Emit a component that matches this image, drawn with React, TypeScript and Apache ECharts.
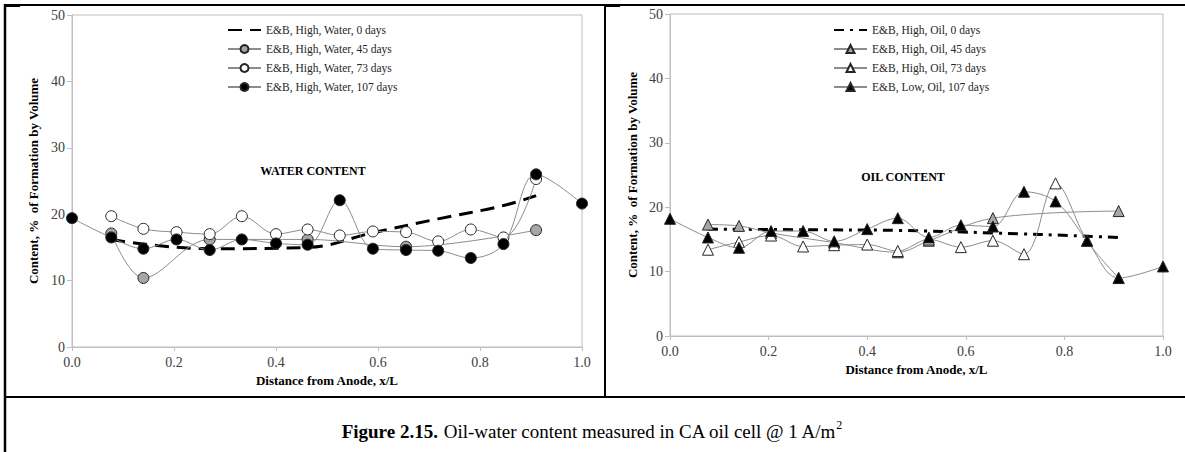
import React, { useEffect, useRef } from "react";
import * as echarts from "echarts";

// ---------- data ----------
const xTicks = [0, 0.2, 0.4, 0.6, 0.8, 1.0];
const yTicks = [0, 10, 20, 30, 40, 50];

const waterLegend = [
  "E&B, High, Water, 0 days",
  "E&B, High, Water, 45 days",
  "E&B, High, Water, 73 days",
  "E&B, High, Water, 107 days",
];
const water0X = [0.077, 0.14, 0.27, 0.462, 0.59, 0.718, 0.846, 0.91];
const water0Y = [16.2, 15.5, 14.8, 15.0, 17.2, 19.3, 21.3, 22.8];
const water45X = [0.077, 0.14, 0.27, 0.462, 0.655, 0.91];
const water45Y = [17.1, 10.4, 16.2, 16.2, 15.1, 17.6];
const water73X = [0.077, 0.14, 0.205, 0.27, 0.333, 0.4, 0.462, 0.525, 0.59, 0.655, 0.718, 0.782, 0.846, 0.91];
const water73Y = [19.7, 17.8, 17.3, 17.0, 19.7, 17.0, 17.7, 16.8, 17.4, 17.3, 15.9, 17.7, 16.5, 25.3];
const water107X = [0, 0.077, 0.14, 0.205, 0.27, 0.333, 0.4, 0.462, 0.525, 0.59, 0.655, 0.718, 0.782, 0.846, 0.91, 1.0];
const water107Y = [19.4, 16.5, 14.8, 16.2, 14.6, 16.2, 15.6, 15.4, 22.1, 14.8, 14.6, 14.5, 13.4, 15.5, 26.0, 21.6];

const oilLegend = [
  "E&B, High, Oil, 0 days",
  "E&B, High, Oil, 45 days",
  "E&B, High, Oil, 73 days",
  "E&B, Low, Oil, 107 days",
];
const oil0X = [0.077, 0.27, 0.462, 0.655, 0.846, 0.91];
const oil0Y = [16.6, 16.5, 16.4, 16.0, 15.5, 15.3];
const oil45X = [0.077, 0.14, 0.205, 0.333, 0.462, 0.525, 0.655, 0.91];
const oil45Y = [17.3, 17.1, 16.0, 14.5, 13.0, 14.8, 18.3, 19.4];
const oil73X = [0.077, 0.14, 0.205, 0.27, 0.333, 0.4, 0.462, 0.525, 0.59, 0.655, 0.718, 0.782, 0.846, 0.91];
const oil73Y = [13.4, 14.6, 15.6, 13.9, 14.1, 14.2, 13.2, 15.0, 13.8, 14.8, 12.7, 23.7, 14.8, 9.0];
const oil107X = [0, 0.077, 0.14, 0.205, 0.27, 0.333, 0.4, 0.462, 0.525, 0.59, 0.655, 0.718, 0.782, 0.846, 0.91, 1.0];
const oil107Y = [18.2, 15.3, 13.7, 16.3, 16.3, 14.7, 16.6, 18.3, 15.3, 17.2, 17.0, 22.4, 20.9, 14.8, 9.0, 10.8];

const yTitle = "Content, %  of Formation by Volume";
const xTitle = "Distance from Anode, x/L";

// ---------- helpers ----------
const FONT = "Liberation Serif, Times New Roman, serif";
const pairs = (xs: number[], ys: number[]) => xs.map((x, i) => [x, ys[i]]);

function xAxis(gridIndex: number, gap: number) {
  return {
    type: "value",
    gridIndex,
    min: xTicks[0],
    max: xTicks[xTicks.length - 1],
    interval: 0.2,
    axisLine: { lineStyle: { color: "#bfbfbf", width: 1 } },
    axisTick: { show: true, length: 4, lineStyle: { color: "#bfbfbf" } },
    splitLine: { show: false },
    axisLabel: {
      fontFamily: FONT,
      fontSize: 14,
      color: "#404040",
      margin: 8,
      formatter: (v: number) => v.toFixed(1),
    },
    name: xTitle,
    nameLocation: "middle",
    nameGap: gap,
    nameTextStyle: { fontFamily: FONT, fontSize: 13, fontWeight: "bold", color: "#000" },
  };
}
function yAxis(gridIndex: number, gap: number) {
  return {
    type: "value",
    gridIndex,
    min: yTicks[0],
    max: yTicks[yTicks.length - 1],
    interval: 10,
    axisLine: { show: true, lineStyle: { color: "#bfbfbf", width: 1 } },
    axisTick: { show: true, length: 5, lineStyle: { color: "#bfbfbf" } },
    splitLine: { show: false },
    axisLabel: { fontFamily: FONT, fontSize: 14, color: "#404040", margin: 7 },
    name: yTitle,
    nameLocation: "middle",
    nameGap: gap,
    nameRotate: 90,
    nameTextStyle: { fontFamily: FONT, fontSize: 13, fontWeight: "bold", color: "#000" },
  };
}

function markerSeries(
  name: string,
  idx: number,
  data: number[][],
  symbol: string,
  fill: string,
  lineColor: string,
  size: number,
  z: number
) {
  return {
    name,
    type: "line",
    xAxisIndex: idx,
    yAxisIndex: idx,
    data,
    smooth: 0.35,
    symbol,
    symbolSize: size,
    showSymbol: true,
    lineStyle: { color: lineColor, width: 1 },
    itemStyle: { color: fill, borderColor: "#262626", borderWidth: 1 },
    z,
  };
}

function legend(left: number, names: string[]) {
  return {
    left,
    top: 19,
    orient: "vertical",
    itemWidth: 33,
    itemHeight: 10,
    itemGap: 7,
    data: names.map((n, i) => (i === 0 ? { name: n, itemStyle: { opacity: 0 } } : { name: n })),
    textStyle: { fontFamily: FONT, fontSize: 11.5, color: "#262626", lineHeight: 12 },
    selectedMode: false,
  };
}

export default function App() {
  const ref = useRef<HTMLDivElement>(null);
  useEffect(() => {
    if (!ref.current) return;
    const chart = echarts.init(ref.current, undefined, { renderer: "svg" });
    const option: any = {
      animation: false,
      backgroundColor: "#fff",
      grid: [
        { left: 72, top: 15, width: 510, height: 332, show: true, borderColor: "#bfbfbf", borderWidth: 1 },
        { left: 670, top: 14, width: 493, height: 322, show: true, borderColor: "#bfbfbf", borderWidth: 1 },
      ],
      xAxis: [xAxis(0, 24), xAxis(1, 27)],
      yAxis: [yAxis(0, 32), yAxis(1, 31)],
      legend: [legend(222, waterLegend), legend(828, oilLegend)],
      series: [
        {
          name: waterLegend[0],
          type: "line",
          xAxisIndex: 0,
          yAxisIndex: 0,
          data: pairs(water0X, water0Y),
          smooth: 0.4,
          symbol: "none",
          lineStyle: { color: "#000", width: 3, type: [14, 8] },
          itemStyle: { color: "#000" },
          z: 3,
        },
        markerSeries(waterLegend[1], 0, pairs(water45X, water45Y), "circle", "#a6a6a6", "#8c8c8c", 11, 4),
        markerSeries(waterLegend[2], 0, pairs(water73X, water73Y), "circle", "#ffffff", "#8c8c8c", 11, 5),
        markerSeries(waterLegend[3], 0, pairs(water107X, water107Y), "circle", "#000000", "#8c8c8c", 11, 6),
        {
          name: oilLegend[0],
          type: "line",
          xAxisIndex: 1,
          yAxisIndex: 1,
          data: pairs(oil0X, oil0Y),
          smooth: 0.4,
          symbol: "none",
          lineStyle: { color: "#000", width: 3, type: [10, 6, 3, 6] },
          itemStyle: { color: "#000" },
          z: 3,
        },
        markerSeries(oilLegend[1], 1, pairs(oil45X, oil45Y), "triangle", "#a6a6a6", "#8c8c8c", 11, 4),
        markerSeries(oilLegend[2], 1, pairs(oil73X, oil73Y), "triangle", "#ffffff", "#8c8c8c", 11, 5),
        markerSeries(oilLegend[3], 1, pairs(oil107X, oil107Y), "triangle", "#000000", "#8c8c8c", 11, 6),
      ],
      graphic: [
        { type: "line", shape: { x1: 5, y1: 5, x2: 1185, y2: 5 }, style: { stroke: "#000", lineWidth: 2 } },
        { type: "line", shape: { x1: 5, y1: 4, x2: 5, y2: 452 }, style: { stroke: "#000", lineWidth: 2.5 } },
        { type: "line", shape: { x1: 605, y1: 4, x2: 605, y2: 397 }, style: { stroke: "#000", lineWidth: 2 } },
        { type: "line", shape: { x1: 4, y1: 397, x2: 1185, y2: 397 }, style: { stroke: "#000", lineWidth: 2 } },
        { type: "rect", shape: { x: 4, y: 4, width: 16, height: 3 }, style: { fill: "#000" } },
        { type: "rect", shape: { x: 604, y: 4, width: 16, height: 3 }, style: { fill: "#000" } },
        {
          type: "text",
          x: 313,
          y: 171,
          style: {
            text: "WATER CONTENT",
            font: `bold 12px ${FONT}`,
            fill: "#000",
            align: "center",
            verticalAlign: "middle",
          },
        },
        {
          type: "text",
          x: 903,
          y: 177,
          style: {
            text: "OIL CONTENT",
            font: `bold 12px ${FONT}`,
            fill: "#000",
            align: "center",
            verticalAlign: "middle",
          },
        },
        {
          type: "text",
          x: 592,
          y: 430,
          style: {
            text: "{b|Figure 2.15.}{n| Oil-water content measured in CA oil cell @ 1 A/m}{s|2}",
            align: "center",
            verticalAlign: "middle",
            fill: "#000",
            rich: {
              b: { fontFamily: FONT, fontSize: 19, fontWeight: "bold", fill: "#000", lineHeight: 22, verticalAlign: "bottom" },
              n: { fontFamily: FONT, fontSize: 19, fill: "#000", lineHeight: 22, verticalAlign: "bottom" },
              s: { fontFamily: FONT, fontSize: 12, fill: "#000", lineHeight: 12, verticalAlign: "top" },
            },
          },
        },
      ],
    };
    chart.setOption(option);
    return () => chart.dispose();
  }, []);
  return (
    <div
      ref={ref}
      style={{ position: "absolute", left: 0, top: 0, width: 1185, height: 452, background: "#fff" }}
    />
  );
}
